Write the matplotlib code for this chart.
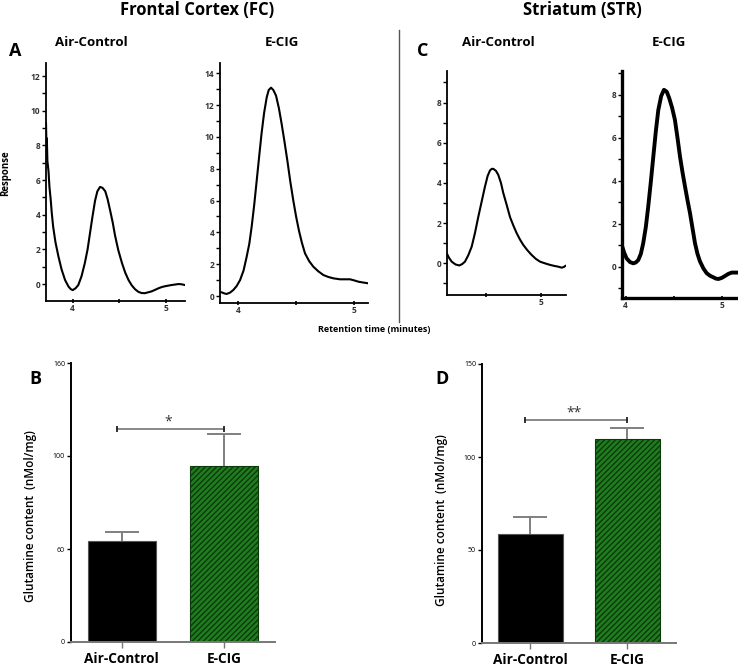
import matplotlib
matplotlib.use('Agg')
import matplotlib.pyplot as plt
import numpy as np
from matplotlib.ticker import MultipleLocator

plt.rcParams['font.family'] = ['Open Sans', 'DejaVu Sans']
plt.rcParams['hatch.linewidth'] = 1.0

W, H = 738, 667

# chromatogram traces (retention time in min, response)
fc_air_time = [3.713, 3.718, 3.722, 3.728, 3.74, 3.75, 3.763, 3.775, 3.79, 3.815, 3.847,
               3.88, 3.918, 3.955, 3.98, 4.0, 4.03, 4.06, 4.095, 4.13, 4.16, 4.185,
               4.21, 4.24, 4.265, 4.294, 4.32, 4.35, 4.375, 4.40, 4.43, 4.455, 4.49,
               4.53, 4.565, 4.60, 4.635, 4.67, 4.705, 4.74, 4.775, 4.81, 4.845, 4.88,
               4.92, 4.96, 5.0, 5.05, 5.1, 5.14, 5.175, 5.207]
fc_air_resp = [9.3, 8.0, 8.4, 7.1, 6.5, 5.6, 4.9, 4.1, 3.3, 2.4, 1.58,
               0.85, 0.23, -0.15, -0.3, -0.35, -0.25, -0.06, 0.45, 1.2, 2.0, 2.9,
               3.8, 4.8, 5.35, 5.6, 5.55, 5.35, 4.9, 4.3, 3.55, 2.8, 1.95,
               1.2, 0.65, 0.23, -0.08, -0.3, -0.45, -0.52, -0.53, -0.48, -0.43, -0.35,
               -0.25, -0.17, -0.12, -0.07, -0.03, 0.0, -0.02, -0.06]

fc_ecig_time = [3.842, 3.857, 3.88, 3.90, 3.93, 3.957, 3.985, 4.015, 4.045, 4.072, 4.095,
                4.115, 4.138, 4.159, 4.18, 4.20, 4.222, 4.245, 4.262, 4.282, 4.302,
                4.325, 4.35, 4.374, 4.398, 4.423, 4.448, 4.474, 4.498, 4.523, 4.548,
                4.575, 4.61, 4.647, 4.69, 4.733, 4.775, 4.82, 4.877, 4.92, 4.963,
                5.0, 5.035, 5.075, 5.118]
fc_ecig_resp = [0.25, 0.23, 0.16, 0.13, 0.22, 0.38, 0.62, 1.0, 1.6, 2.47, 3.3,
                4.36, 5.8, 7.3, 8.8, 10.2, 11.5, 12.5, 12.95, 13.1, 12.95,
                12.6, 11.8, 10.8, 9.7, 8.5, 7.2, 6.0, 5.0, 4.1, 3.35,
                2.68, 2.2, 1.84, 1.55, 1.32, 1.2, 1.11, 1.05, 1.05, 1.05,
                0.98, 0.9, 0.85, 0.8]

str_air_time = [4.145, 4.165, 4.19, 4.225, 4.259, 4.285, 4.31, 4.34, 4.371, 4.40, 4.43,
                4.46, 4.49, 4.515, 4.536, 4.552, 4.566, 4.59, 4.611, 4.635, 4.656,
                4.687, 4.717, 4.747, 4.777, 4.807, 4.837, 4.875, 4.913, 4.95, 4.988,
                5.03, 5.078, 5.115, 5.153, 5.184, 5.205, 5.22]
str_air_resp = [0.5, 0.28, 0.08, -0.06, -0.11, -0.04, 0.08, 0.4, 0.83, 1.5, 2.3,
                3.05, 3.8, 4.35, 4.62, 4.7, 4.7, 4.6, 4.4, 4.0, 3.5,
                2.9, 2.3, 1.88, 1.5, 1.18, 0.91, 0.64, 0.41, 0.22, 0.08,
                0.0, -0.08, -0.13, -0.17, -0.22, -0.18, -0.12]

str_ecig_time = [3.965, 3.985, 4.01, 4.045, 4.079, 4.105, 4.131, 4.158, 4.183, 4.21, 4.235,
                 4.262, 4.288, 4.314, 4.34, 4.37, 4.399, 4.428, 4.454, 4.484, 4.513,
                 4.54, 4.566, 4.592, 4.618, 4.644, 4.67, 4.696, 4.722, 4.748, 4.774,
                 4.81, 4.844, 4.88, 4.913, 4.94, 4.965, 5.0, 5.034, 5.07, 5.104,
                 5.14, 5.17]
str_ecig_resp = [0.93, 0.65, 0.39, 0.22, 0.16, 0.2, 0.31, 0.6, 1.1, 1.85, 2.8,
                 3.95, 5.13, 6.3, 7.3, 7.95, 8.24, 8.15, 7.85, 7.4, 6.84,
                 6.0, 5.13, 4.4, 3.74, 3.1, 2.5, 1.8, 1.1, 0.6, 0.25,
                 -0.08, -0.3, -0.42, -0.49, -0.55, -0.57, -0.52, -0.43, -0.33, -0.27,
                 -0.27, -0.27]

# glutamine content (nMol/mg), mean and upper error
groups = ['Air-Control', 'E-CIG']
fc_glutamine = [63.4, 95.8]
fc_err = [3.9, 18.2]
fc_yticks = [0, 60, 100, 160]
fc_star, fc_star_y = '*', 117.4

str_glutamine = [58.6, 109.7]
str_err = [9.1, 5.9]
str_yticks = [0, 50, 100, 150]
str_star, str_star_y = '**', 119.9


def box(left, top, right, bottom):
    """axes rectangle from pixel edges of the 738x667 canvas"""
    return [left / W, 1 - bottom / H, (right - left) / W, (bottom - top) / H]


def trace_panel(rect, t, r, xlim, ylim, xlabels, lw=1.5, spine_lw=1.3):
    ax = fig.add_axes(rect)
    ax.plot(t, r, color='black', lw=lw, solid_joinstyle='round', solid_capstyle='round')
    ax.set_xlim(*xlim)
    ax.set_ylim(*ylim)
    for s in ['top', 'right']:
        ax.spines[s].set_visible(False)
    for s in ['left', 'bottom']:
        ax.spines[s].set_linewidth(spine_lw)
    ax.yaxis.set_major_locator(MultipleLocator(2))
    ax.yaxis.set_minor_locator(MultipleLocator(1))
    ax.set_xticks(xlabels)
    ax.set_xticks([4.5], minor=True)
    ax.tick_params(axis='y', which='both', direction='out', length=3, width=1,
                   labelsize=6, labelcolor='#333333', pad=1)
    ax.tick_params(axis='x', which='both', direction='inout', length=3, width=1.2,
                   labelsize=6, labelcolor='#333333', pad=1)
    for lab in ax.get_xticklabels() + ax.get_yticklabels():
        lab.set_fontweight('bold')
    return ax


def bar_panel(rect, values, err, yticks, star, star_y, scale=None):
    ax = fig.add_axes(rect)
    if scale is not None:
        ax.set_yscale('function', functions=scale)
    x = np.arange(len(groups))
    tops = np.add(values, err)
    ax.bar(x[0], values[0], width=0.67, color='black', edgecolor='#555555', lw=0.8)
    ax.bar(x[1], values[1], width=0.67, color='#1f7d1f', edgecolor='#0c3a0c',
           lw=0.8, hatch='//////')
    # upper error bars only
    ax.vlines(x, values, tops, color='#7f7f7f', lw=1.4)
    ax.plot(x, tops, ls='none', marker='_', ms=24, mew=1.4, color='#7f7f7f')
    ax.plot([x[0] - 0.05, x[1]], [star_y, star_y], color='#7f7f7f', lw=1.3)
    ax.plot([x[0] - 0.05, x[1]], [star_y, star_y], ls='none', marker='|',
            ms=4, mew=1.3, color='#222222')
    ax.text((x[0] + x[1]) / 2 - 0.05, star_y, star, ha='center', va='bottom',
            fontsize=10, color='#333333')
    ax.set_xlim(-0.5, 1.5)
    ax.set_ylim(yticks[0], yticks[-1])
    ax.set_yticks(yticks)
    ax.set_xticks(x)
    ax.set_xticklabels(groups, fontsize=9.8, fontweight='bold')
    for s in ['top', 'right']:
        ax.spines[s].set_visible(False)
    ax.spines['left'].set_linewidth(1.4)
    ax.spines['bottom'].set_linewidth(1.4)
    ax.spines['bottom'].set_color('#777777')
    ax.tick_params(axis='y', length=3, width=1, labelsize=5, pad=1)
    ax.tick_params(axis='x', length=4, width=1, color='#777777', pad=3)
    ax.set_ylabel('Glutamine content  (nMol/mg)', fontsize=8.5, fontweight='semibold')
    return ax


fig = plt.figure(figsize=(W / 100, H / 100), dpi=100)

trace_panel(box(46, 63, 185, 301), fc_air_time, fc_air_resp,
            (3.713, 5.207), (-0.98, 12.75), [4, 5])
trace_panel(box(220, 62.7, 368, 303), fc_ecig_time, fc_ecig_resp,
            (3.842, 5.118), (-0.44, 14.67), [4, 5])
trace_panel(box(446.7, 71, 565.7, 295), str_air_time, str_air_resp,
            (4.145, 5.22), (-1.58, 9.57), [5])
trace_panel(box(622.3, 70.7, 738, 297.7), str_ecig_time, str_ecig_resp,
            (3.965, 5.17), (-1.44, 9.13), [4, 5], lw=2.8, spine_lw=2.4)

# panel B axis labels are evenly spaced although the values are not
fc_pos = np.arange(len(fc_yticks))
fc_scale = (lambda v: np.interp(v, fc_yticks, fc_pos),
            lambda p: np.interp(p, fc_pos, fc_yticks))
axb = bar_panel(box(70.7, 363, 275, 642), fc_glutamine, fc_err, fc_yticks,
                fc_star, fc_star_y, scale=fc_scale)
axb.yaxis.set_label_coords(-0.166, 0.45)
axd = bar_panel(box(481.7, 364, 676, 643), str_glutamine, str_err, str_yticks,
                str_star, str_star_y)
axd.yaxis.set_label_coords(-0.173, 0.44)

# headings and panel letters
fig.text(197 / W, 1 - 10 / H, 'Frontal Cortex (FC)', ha='center', va='center',
         fontsize=12, fontweight='bold')
fig.text(582 / W, 1 - 10 / H, 'Striatum (STR)', ha='center', va='center',
         fontsize=12, fontweight='bold')
for xp, label in [(91, 'Air-Control'), (282, 'E-CIG'), (498, 'Air-Control'), (669, 'E-CIG')]:
    fig.text(xp / W, 1 - 43 / H, label, ha='center', va='center',
             fontsize=9.5, fontweight='bold')
for xp, yp, letter in [(15, 51, 'A'), (423, 51, 'C'), (35, 379, 'B'), (442, 379, 'D')]:
    fig.text(xp / W, 1 - yp / H, letter, ha='center', va='center',
             fontsize=13, fontweight='bold')
fig.text(6 / W, 1 - 173 / H, 'Response', rotation=90, ha='center', va='center',
         fontsize=7, fontweight='bold')
fig.text(374 / W, 1 - 329 / H, 'Retention time (minutes)', ha='center', va='center',
         fontsize=6.5, fontweight='bold')

# divider between the two regions
fig.add_artist(plt.Line2D([399 / W, 399 / W], [1 - 30 / H, 1 - 322 / H],
                          color='#555555', lw=1))

fig.savefig('out.png', dpi=100)
plt.close(fig)
